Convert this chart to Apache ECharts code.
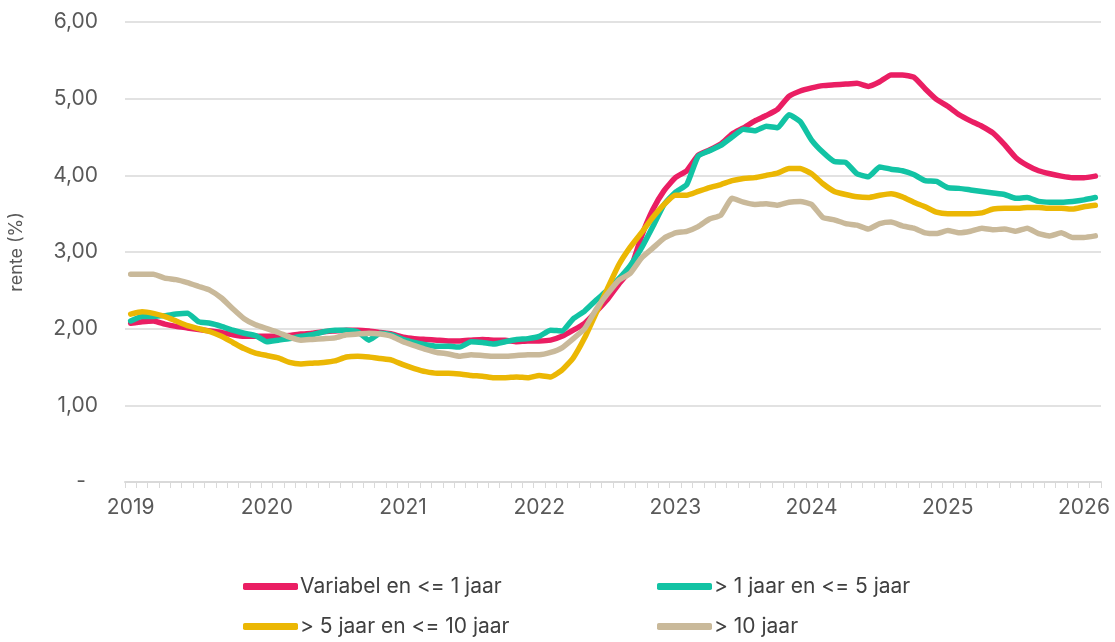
<!DOCTYPE html>
<html>
<head>
<meta charset="utf-8">
<script src="https://cdn.jsdelivr.net/npm/echarts@6/dist/echarts.min.js"></script>
<style>
  html, body { margin: 0; padding: 0; background: #fff; }
  #grafiek { width: 1115px; height: 642px; }
</style>
</head>
<body>
<div id="grafiek"></div>
<script>
// maanden jan 2019 .. feb 2026
var jaren = [2019, 2020, 2021, 2022, 2023, 2024, 2025, 2026];
var maanden = [];
jaren.forEach(function (j) {
  for (var m = 1; m <= 12; m++) {
    if (maanden.length < 86) maanden.push(j + '-' + (m < 10 ? '0' + m : m));
  }
});

var namen = ['Variabel en <= 1 jaar', '> 1 jaar en <= 5 jaar', '> 5 jaar en <= 10 jaar', '> 10 jaar'];

var variabel = [2.07, 2.09, 2.10, 2.06, 2.03, 2.01, 1.99, 1.97, 1.95, 1.92, 1.90, 1.90,
  1.90, 1.90, 1.91, 1.93, 1.94, 1.96, 1.97, 1.98, 1.98, 1.97, 1.95, 1.93,
  1.89, 1.87, 1.86, 1.85, 1.84, 1.84, 1.85, 1.86, 1.85, 1.85, 1.83, 1.84,
  1.84, 1.85, 1.90, 1.98, 2.07, 2.22, 2.38, 2.58, 2.76, 3.20, 3.55, 3.80,
  3.97, 4.06, 4.26, 4.33, 4.41, 4.54, 4.62, 4.71, 4.78, 4.86, 5.03, 5.10,
  5.14, 5.17, 5.18, 5.19, 5.20, 5.16, 5.22, 5.31, 5.31, 5.28, 5.13, 4.99,
  4.90, 4.79, 4.71, 4.64, 4.55, 4.40, 4.23, 4.13, 4.06, 4.02, 3.99, 3.97,
  3.97, 3.99];

var tot5 = [2.10, 2.16, 2.16, 2.17, 2.19, 2.20, 2.09, 2.07, 2.03, 1.98, 1.94, 1.91,
  1.83, 1.85, 1.87, 1.90, 1.92, 1.96, 1.98, 1.98, 1.96, 1.85, 1.94, 1.92,
  1.86, 1.82, 1.79, 1.77, 1.77, 1.76, 1.83, 1.82, 1.80, 1.83, 1.86, 1.87,
  1.90, 1.98, 1.97, 2.13, 2.23, 2.37, 2.50, 2.65, 2.82, 3.05, 3.33, 3.62,
  3.78, 3.88, 4.25, 4.32, 4.39, 4.50, 4.60, 4.58, 4.64, 4.62, 4.79, 4.70,
  4.46, 4.30, 4.18, 4.17, 4.02, 3.98, 4.11, 4.08, 4.06, 4.01, 3.93, 3.92,
  3.84, 3.83, 3.81, 3.79, 3.77, 3.75, 3.70, 3.71, 3.66, 3.65, 3.65, 3.66,
  3.68, 3.71];

var tot10 = [2.19, 2.22, 2.20, 2.16, 2.10, 2.04, 2.00, 1.96, 1.90, 1.82, 1.74, 1.68,
  1.65, 1.62, 1.56, 1.54, 1.55, 1.56, 1.58, 1.63, 1.64, 1.63, 1.61, 1.59,
  1.53, 1.48, 1.44, 1.42, 1.42, 1.41, 1.39, 1.38, 1.36, 1.36, 1.37, 1.36,
  1.39, 1.37, 1.46, 1.62, 1.88, 2.20, 2.52, 2.83, 3.06, 3.25, 3.45, 3.62,
  3.74, 3.74, 3.79, 3.84, 3.88, 3.93, 3.96, 3.97, 4.00, 4.03, 4.09, 4.09,
  4.02, 3.89, 3.79, 3.75, 3.72, 3.71, 3.74, 3.76, 3.72, 3.65, 3.59, 3.52,
  3.50, 3.50, 3.50, 3.51, 3.56, 3.57, 3.57, 3.58, 3.58, 3.57, 3.57, 3.56,
  3.59, 3.61];

var boven10 = [2.71, 2.71, 2.71, 2.66, 2.64, 2.60, 2.55, 2.50, 2.40, 2.26, 2.13, 2.05,
  2.00, 1.95, 1.89, 1.85, 1.86, 1.87, 1.88, 1.92, 1.93, 1.94, 1.93, 1.90,
  1.83, 1.78, 1.73, 1.69, 1.67, 1.64, 1.66, 1.65, 1.64, 1.64, 1.65, 1.66,
  1.66, 1.69, 1.75, 1.87, 2.00, 2.25, 2.45, 2.63, 2.72, 2.92, 3.05, 3.18,
  3.25, 3.27, 3.33, 3.43, 3.48, 3.70, 3.65, 3.62, 3.63, 3.61, 3.65, 3.66,
  3.62, 3.45, 3.42, 3.37, 3.35, 3.30, 3.37, 3.39, 3.34, 3.31, 3.25, 3.24,
  3.28, 3.25, 3.27, 3.31, 3.29, 3.30, 3.27, 3.31, 3.24, 3.21, 3.25, 3.19,
  3.19, 3.21];

var kleuren = ['#ea1e63', '#12c3a4', '#ebb704', '#c9b99a'];
var reeksen = [variabel, tot5, tot10, boven10];

var chartDom = document.getElementById('grafiek');
var myChart = echarts.init(chartDom);

var fontFam = 'Inter, "Noto Sans", sans-serif';

// vier losse legenda's in een 2x2 raster
var legendPos = [[243, 576], [657, 576], [243, 616], [657, 616]];
var legends = namen.map(function (n, i) {
  return {
    data: [n],
    left: legendPos[i][0],
    top: legendPos[i][1],
    icon: 'roundRect',
    itemWidth: 55,
    itemHeight: 7,
    itemGap: 0,
    padding: 0,
    textStyle: { fontFamily: fontFam, fontSize: 21, color: '#404040', padding: [0, 0, 0, -3] }
  };
});

var option = {
  animation: false,
  color: kleuren,
  legend: legends,
  grid: { left: 119, right: 14, top: 22, bottom: 160 },
  xAxis: {
    type: 'category',
    data: maanden,
    boundaryGap: true,
    axisLine: { lineStyle: { color: '#d9d9d9', width: 2 } },
    axisTick: { show: true, interval: 0, length: 6, lineStyle: { color: '#d9d9d9', width: 1 } },
    axisLabel: {
      interval: function (idx) { return idx % 12 === 0; },
      formatter: function (v) { return v.slice(0, 4); },
      fontFamily: fontFam,
      fontSize: 21,
      color: '#595959',
      margin: 15
    },
    splitLine: { show: false }
  },
  yAxis: {
    type: 'value',
    min: 0,
    max: 6,
    interval: 1,
    name: 'rente (%)',
    nameLocation: 'middle',
    nameGap: 99,
    nameTextStyle: { fontFamily: fontFam, fontSize: 18, color: '#595959' },
    axisLine: { show: false },
    axisTick: { show: false },
    axisLabel: {
      margin: 27,
      fontFamily: fontFam,
      fontSize: 21,
      color: '#595959',
      formatter: function (v) {
        if (v === 0) return '{d|-}';
        return v.toFixed(2).replace('.', ',');
      },
      rich: { d: { fontFamily: fontFam, fontSize: 21, color: '#595959', padding: [0, 12, 0, 0] } }
    },
    splitLine: { lineStyle: { color: '#d9d9d9', width: 1.5 } }
  },
  series: reeksen.map(function (r, i) {
    return {
      name: namen[i],
      type: 'line',
      data: r,
      symbol: 'none',
      smooth: 0.15,
      lineStyle: { width: 5.5, cap: 'round', join: 'round' }
    };
  })
};

option && myChart.setOption(option);
</script>
</body>
</html>
